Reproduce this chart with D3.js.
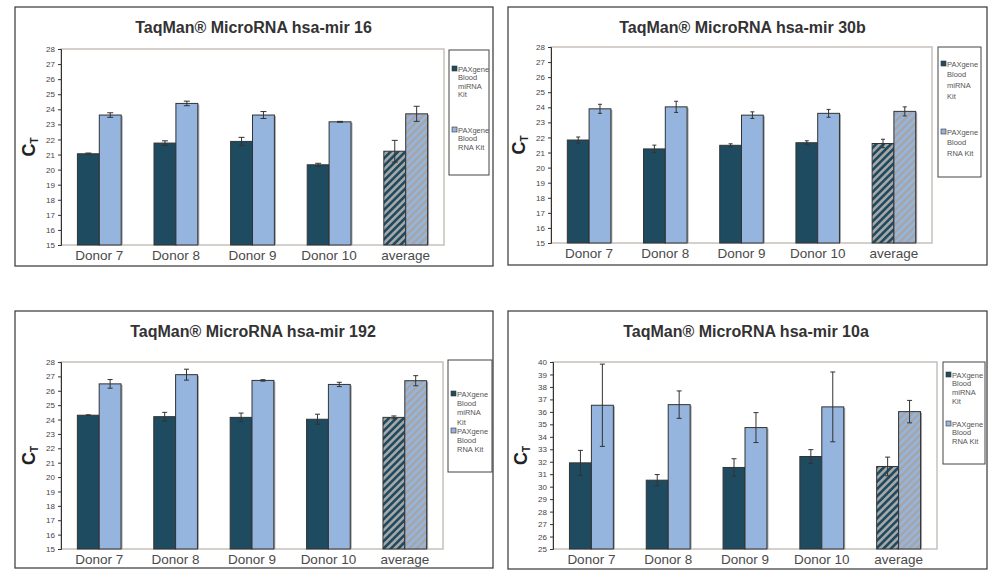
<!DOCTYPE html>
<html lang="en">
<head>
  <meta charset="UTF-8">
  <title>TaqMan MicroRNA CT values</title>
  <script src="https://d3js.org/d3.v7.min.js"></script>
  <style>
    body { margin:0; background:#fff; }
    svg { display:block; font-family:"Liberation Sans", Arial, sans-serif; }
  </style>
</head>
<body>
  <svg width="995" height="570"></svg>
  <script>
    // categories on the x axis
    const categories = ['Donor 7', 'Donor 8', 'Donor 9', 'Donor 10', 'average']
    const seriesNames = [['PAXgene', 'Blood', 'miRNA', 'Kit'], ['PAXgene', 'Blood', 'RNA Kit']]

    // CT values (miRNA kit / RNA kit) and their error bars
    const mir16Mirna = [21.05, 21.76, 21.87, 20.32, 21.22]
    const mir16MirnaErr = [0.05, 0.15, 0.27, 0.1, 0.72]
    const mir16Rna = [23.62, 24.39, 23.62, 23.17, 23.7]
    const mir16RnaErr = [0.15, 0.15, 0.23, 0.03, 0.5]

    const mir30bMirna = [21.83, 21.24, 21.48, 21.65, 21.6]
    const mir30bMirnaErr = [0.2, 0.25, 0.1, 0.13, 0.28]
    const mir30bRna = [23.9, 24.03, 23.48, 23.6, 23.73]
    const mir30bRnaErr = [0.3, 0.37, 0.22, 0.26, 0.3]

    const mir192Mirna = [24.3, 24.2, 24.15, 24.02, 24.15]
    const mir192MirnaErr = [0.03, 0.3, 0.3, 0.35, 0.1]
    const mir192Rna = [26.48, 27.12, 26.72, 26.44, 26.7]
    const mir192RnaErr = [0.3, 0.38, 0.05, 0.15, 0.35]

    const mir10aMirna = [31.91, 30.52, 31.54, 32.42, 31.62]
    const mir10aMirnaErr = [1.0, 0.45, 0.7, 0.55, 0.75]
    const mir10aRna = [36.53, 36.58, 34.74, 36.4, 36.02]
    const mir10aRnaErr = [3.3, 1.1, 1.2, 2.8, 0.9]

    const colors = ['#1f4b61', '#95b4de']
    const stripeGrey = '#a6a6a6'

    // layout of the four panels
    const panels = [
      { title: 'TaqMan® MicroRNA hsa-mir 16', box: [15, 7, 493, 266], plot: [61, 49, 444, 245],
        legend: [449, 50, 489, 175], leg: [19, 80, 8.5], domain: [15, 28], cap: 6,
        a: mir16Mirna, ae: mir16MirnaErr, b: mir16Rna, be: mir16RnaErr, titleY: 33 },
      { title: 'TaqMan® MicroRNA hsa-mir 30b', box: [508, 7, 987, 265], plot: [551, 47, 932, 243],
        legend: [938, 47, 981, 177], leg: [17, 85, 10.8], domain: [15, 28], cap: 4,
        a: mir30bMirna, ae: mir30bMirnaErr, b: mir30bRna, be: mir30bRnaErr, titleY: 33 },
      { title: 'TaqMan® MicroRNA hsa-mir 192', box: [15, 311, 493, 568], plot: [61, 362, 443, 549],
        legend: [448, 360, 492, 472], leg: [34, 71, 9.4], domain: [15, 28], cap: 5,
        a: mir192Mirna, ae: mir192MirnaErr, b: mir192Rna, be: mir192RnaErr, titleY: 337 },
      { title: 'TaqMan® MicroRNA hsa-mir 10a', box: [508, 311, 987, 569], plot: [553, 362, 937, 549],
        legend: [943, 362, 985, 464], leg: [13, 62, 8.8], domain: [25, 40], cap: 5,
        a: mir10aMirna, ae: mir10aMirnaErr, b: mir10aRna, be: mir10aRnaErr, titleY: 337 }
    ]

    const svg = d3.select('svg')

    // striped fills for the "average" bars
    const defs = svg.append('defs')
    colors.forEach((c, i) => {
      const p = defs.append('pattern')
        .attr('id', 'stripe' + i)
        .attr('patternUnits', 'userSpaceOnUse')
        .attr('width', 5.2).attr('height', 5.2)
        .attr('patternTransform', 'rotate(45)')
      p.append('rect').attr('width', 5.2).attr('height', 5.2).attr('fill', c)
      p.append('rect').attr('width', 2.6).attr('height', 5.2).attr('fill', stripeGrey)
    })

    panels.forEach(pn => {
      const [bx0, by0, bx1, by1] = pn.box
      const [px0, py0, px1, py1] = pn.plot
      const g = svg.append('g')

      g.append('rect')
        .attr('x', bx0).attr('y', by0)
        .attr('width', bx1 - bx0).attr('height', by1 - by0)
        .attr('fill', '#fff').attr('stroke', '#444').attr('stroke-width', 1.3)

      g.append('text')
        .attr('x', (px0 + px1) / 2 + 1).attr('y', pn.titleY)
        .attr('text-anchor', 'middle')
        .attr('font-size', 16).attr('font-weight', 'bold').attr('fill', '#333')
        .text(pn.title)

      const x = d3.scaleBand().domain(categories).range([px0, px1])
      const y = d3.scaleLinear().domain(pn.domain).range([py1, py0])
      const bw = x.bandwidth() / 3.5

      // plot area frame
      g.append('rect')
        .attr('x', px0).attr('y', py0)
        .attr('width', px1 - px0).attr('height', py1 - py0)
        .attr('fill', 'none').attr('stroke', '#c6c0ba').attr('stroke-width', 1.5)

      const series = [[pn.a, pn.ae], [pn.b, pn.be]]
      series.forEach(([vals, errs], si) => {
        const bars = g.append('g')
        const data = categories.map((c, i) => ({ c, v: vals[i], e: errs[i], avg: c === 'average' }))
        const bx = d => x(d.c) + x.bandwidth() / 2 - bw + si * bw
        bars.selectAll('rect.shadow').data(data).enter().append('rect')
          .attr('class', 'shadow')
          .attr('x', d => bx(d) + 1.5).attr('y', d => y(d.v) + 1)
          .attr('width', bw).attr('height', d => y(pn.domain[0]) - y(d.v) - 1)
          .attr('fill', '#a8a8a8')
        bars.selectAll('rect.bar').data(data).enter().append('rect')
          .attr('class', 'bar')
          .attr('x', bx).attr('y', d => y(d.v))
          .attr('width', bw).attr('height', d => y(pn.domain[0]) - y(d.v))
          .attr('fill', d => d.avg ? 'url(#stripe' + si + ')' : colors[si])
          .attr('stroke', '#333').attr('stroke-width', 1)
        // error bars
        const ex = d => bx(d) + bw / 2
        const eb = bars.selectAll('g.err').data(data).enter().append('g')
          .attr('stroke', '#333').attr('stroke-width', 1)
        eb.append('line')
          .attr('x1', ex).attr('x2', ex)
          .attr('y1', d => y(d.v + d.e)).attr('y2', d => y(d.v - d.e))
        eb.append('line')
          .attr('x1', d => ex(d) - pn.cap / 2).attr('x2', d => ex(d) + pn.cap / 2)
          .attr('y1', d => y(d.v + d.e)).attr('y2', d => y(d.v + d.e))
        eb.append('line')
          .attr('x1', d => ex(d) - pn.cap / 2).attr('x2', d => ex(d) + pn.cap / 2)
          .attr('y1', d => y(d.v - d.e)).attr('y2', d => y(d.v - d.e))
      })

      // y axis
      const yAxis = d3.axisLeft(y)
        .tickValues(d3.range(pn.domain[0], pn.domain[1] + 1))
        .tickSize(3).tickPadding(3)
        .tickFormat(d3.format('d'))
      const ya = g.append('g')
        .attr('transform', 'translate(' + px0 + ',0)')
        .call(yAxis)
      ya.select('.domain').attr('stroke', '#333')
      ya.selectAll('.tick line').attr('stroke', '#333')
      ya.selectAll('text')
        .attr('font-family', '"Liberation Sans", Arial, sans-serif')
        .attr('font-size', 8).attr('fill', '#444')

      // x labels
      g.selectAll('text.xl').data(categories).enter().append('text')
        .attr('class', 'xl')
        .attr('x', d => x(d) + x.bandwidth() / 2)
        .attr('y', py1 + 15)
        .attr('text-anchor', 'middle')
        .attr('font-size', 13.5).attr('fill', '#4a4a4a')
        .text(d => d)

      // y title C_T
      const yt = g.append('text')
        .attr('transform', 'translate(' + (px0 - 26) + ',' + ((py0 + py1) / 2) + ') rotate(-90)')
        .attr('text-anchor', 'middle')
        .attr('font-weight', 'bold').attr('fill', '#222')
      yt.append('tspan').attr('font-size', 18).text('C')
      yt.append('tspan').attr('font-size', 10).attr('dy', 3).text('T')

      // legend
      const [lx0, ly0, lx1, ly1] = pn.legend
      g.append('rect')
        .attr('x', lx0).attr('y', ly0)
        .attr('width', lx1 - lx0).attr('height', ly1 - ly0)
        .attr('fill', '#fff').attr('stroke', '#444').attr('stroke-width', 1)
      seriesNames.forEach((lines, si) => {
        const top = ly0 + pn.leg[si]
        g.append('rect')
          .attr('x', lx0 + 3).attr('y', top - 3)
          .attr('width', 5).attr('height', 5)
          .attr('fill', colors[si]).attr('stroke', '#333').attr('stroke-width', 0.6)
        g.selectAll(null).data(lines).enter().append('text')
          .attr('x', lx0 + 9)
          .attr('y', (d, i) => top + 2.5 + i * pn.leg[2])
          .attr('font-size', 7.5).attr('fill', '#555')
          .text(d => d)
      })
    })
  </script>
</body>
</html>
